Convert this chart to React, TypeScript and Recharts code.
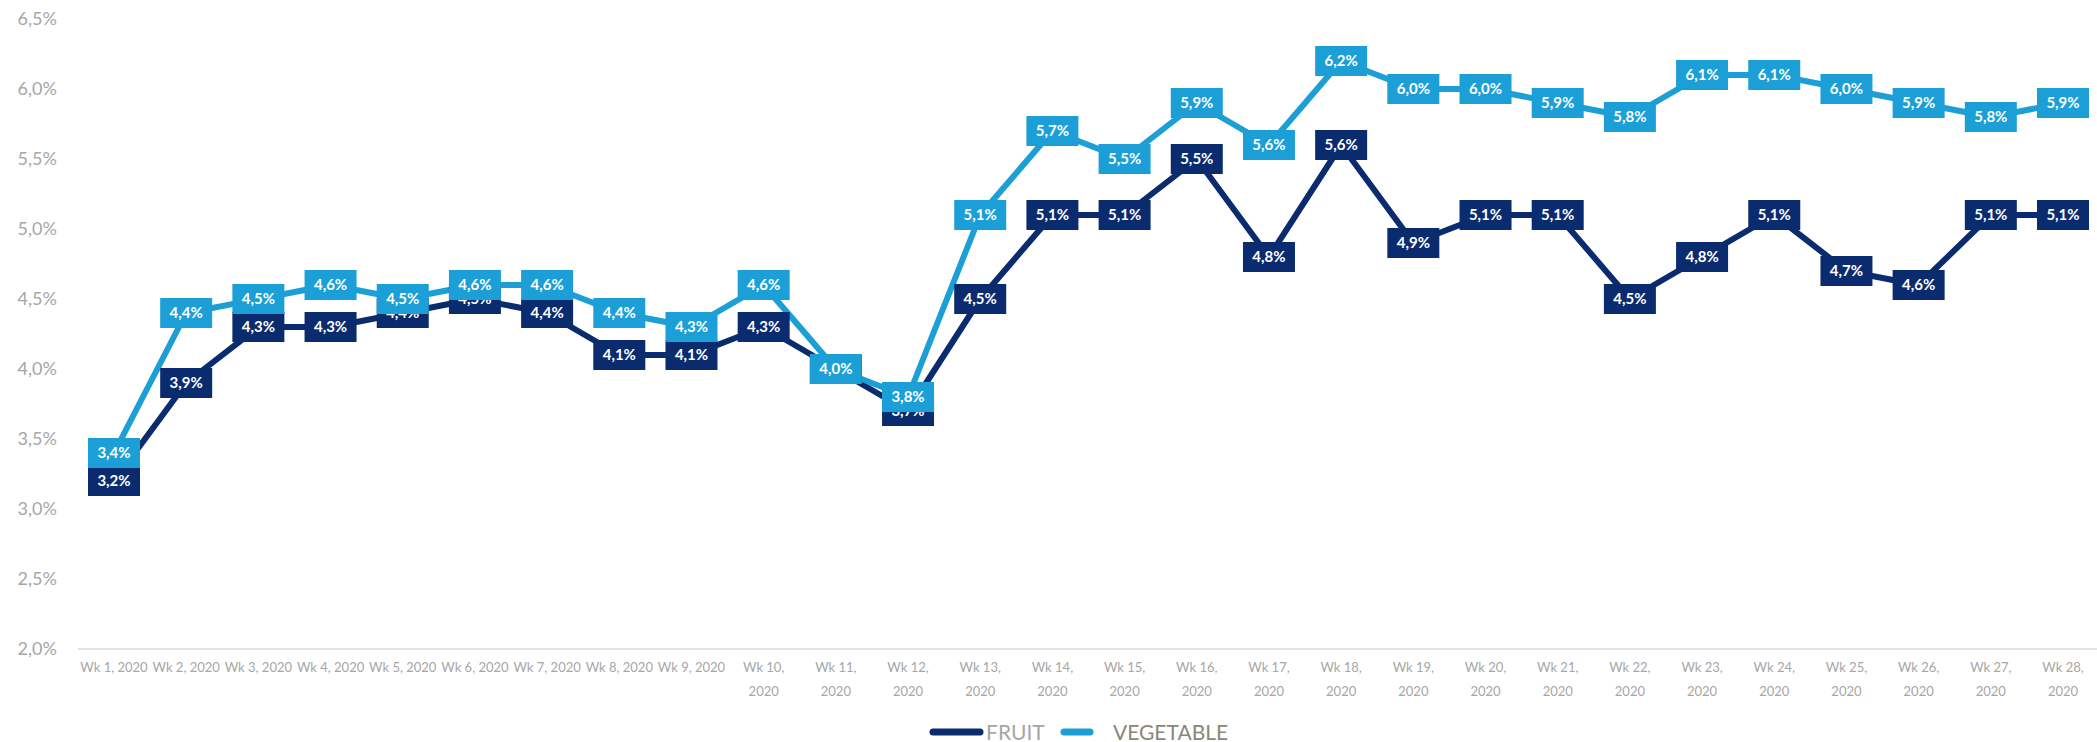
import { CartesianGrid, LabelList, Line, LineChart, XAxis, YAxis } from "recharts";

const weeks = [
  "Wk 1, 2020", "Wk 2, 2020", "Wk 3, 2020", "Wk 4, 2020", "Wk 5, 2020", "Wk 6, 2020", "Wk 7, 2020",
  "Wk 8, 2020", "Wk 9, 2020", "Wk 10, 2020", "Wk 11, 2020", "Wk 12, 2020", "Wk 13, 2020", "Wk 14, 2020",
  "Wk 15, 2020", "Wk 16, 2020", "Wk 17, 2020", "Wk 18, 2020", "Wk 19, 2020", "Wk 20, 2020", "Wk 21, 2020",
  "Wk 22, 2020", "Wk 23, 2020", "Wk 24, 2020", "Wk 25, 2020", "Wk 26, 2020", "Wk 27, 2020", "Wk 28, 2020",
];

const fruit = [
  3.2, 3.9, 4.3, 4.3, 4.4, 4.5, 4.4, 4.1, 4.1, 4.3, 4.0, 3.7, 4.5, 5.1,
  5.1, 5.5, 4.8, 5.6, 4.9, 5.1, 5.1, 4.5, 4.8, 5.1, 4.7, 4.6, 5.1, 5.1,
];

const vegetable = [
  3.4, 4.4, 4.5, 4.6, 4.5, 4.6, 4.6, 4.4, 4.3, 4.6, 4.0, 3.8, 5.1, 5.7,
  5.5, 5.9, 5.6, 6.2, 6.0, 6.0, 5.9, 5.8, 6.1, 6.1, 6.0, 5.9, 5.8, 5.9,
];

const yTicks = [2.0, 2.5, 3.0, 3.5, 4.0, 4.5, 5.0, 5.5, 6.0, 6.5];

const FRUIT_COLOR = "#0b2b6f";
const VEG_COLOR = "#1c9fd7";
const FONT = "Lato, 'Open Sans', sans-serif";

const data = weeks.map((wk, i) => ({ wk, FRUIT: fruit[i], VEGETABLE: vegetable[i] }));

const pct = (v: number) => `${v.toFixed(1).replace(".", ",")}%`;

function WeekTick({ x, y, payload }: any) {
  const label: string = payload.value;
  const cut = label.indexOf(",");
  const lines = label.length > 10 ? [label.slice(0, cut + 1), label.slice(cut + 2)] : [label];
  return (
    <g transform={`translate(${x},${y})`}>
      <text textAnchor="middle" fill="#a6a6a6" fontSize={13} fontFamily={FONT}>
        {lines.map((l, i) => (
          <tspan key={i} x={0} dy={i === 0 ? 23 : 24}>
            {l}
          </tspan>
        ))}
      </text>
    </g>
  );
}

function boxLabel(color: string) {
  return (props: any) => {
    const x = props.x ?? props.viewBox?.x;
    const y = props.y ?? props.viewBox?.y;
    if (x == null || y == null || props.value == null) return null;
    return (
      <g>
        <rect x={x - 26} y={y - 15} width={52} height={30} fill={color} />
        <text
          x={x}
          y={y + 5}
          textAnchor="middle"
          fill="#ffffff"
          fontSize={15}
          fontWeight={700}
          fontFamily={FONT}
        >
          {pct(Number(props.value))}
        </text>
      </g>
    );
  };
}

function LegendRow() {
  return (
    <svg width={2097} height={30} style={{ position: "absolute", left: 0, top: 717 }}>
      <line x1={933} y1={15} x2={980} y2={15} stroke={FRUIT_COLOR} strokeWidth={7} strokeLinecap="round" />
      <text x={986} y={23} fill="#a6a6a6" fontSize={21} fontFamily={FONT}>FRUIT</text>
      <line x1={1064} y1={15} x2={1090} y2={15} stroke={VEG_COLOR} strokeWidth={7} strokeLinecap="round" />
      <text x={1113} y={23} fill="#8b8676" fontSize={21} fontFamily={FONT}>VEGETABLE</text>
    </svg>
  );
}

export default function App() {
  return (
    <div style={{ position: "absolute", left: 0, top: 0, width: 2097, height: 742, background: "#fff" }}>
      <LineChart width={2097} height={742} data={data} margin={{ top: 19, right: -2, left: 0, bottom: 33 }}>
        <CartesianGrid horizontal={false} vertical={false} />
        <XAxis
          dataKey="wk"
          height={60}
          interval={0}
          padding={{ left: 36, right: 36 }}
          tickLine={false}
          tickSize={0}
          tickMargin={0}
          axisLine={{ stroke: "#d9d9d9", strokeWidth: 1.5 }}
          tick={<WeekTick />}
        />
        <YAxis
          width={78}
          domain={[2, 6.5]}
          ticks={yTicks}
          allowDataOverflow
          axisLine={false}
          tickLine={false}
          tickSize={0}
          tickMargin={21}
          tickFormatter={pct}
          tick={{ fill: "#a6a6a6", fontSize: 18, fontFamily: FONT }}
        />
        <Line
          dataKey="FRUIT"
          stroke={FRUIT_COLOR}
          strokeWidth={6}
          strokeLinejoin="round"
          dot={false}
          activeDot={false}
          isAnimationActive={false}
        />
        <Line
          dataKey="VEGETABLE"
          stroke={VEG_COLOR}
          strokeWidth={6}
          strokeLinejoin="round"
          dot={false}
          activeDot={false}
          isAnimationActive={false}
        />
        <Line dataKey="FRUIT" stroke="none" dot={false} activeDot={false} legendType="none" isAnimationActive={false}>
          <LabelList dataKey="FRUIT" content={boxLabel(FRUIT_COLOR)} />
        </Line>
        <Line dataKey="VEGETABLE" stroke="none" dot={false} activeDot={false} legendType="none" isAnimationActive={false}>
          <LabelList dataKey="VEGETABLE" content={boxLabel(VEG_COLOR)} />
        </Line>
      </LineChart>
      <LegendRow />
    </div>
  );
}
